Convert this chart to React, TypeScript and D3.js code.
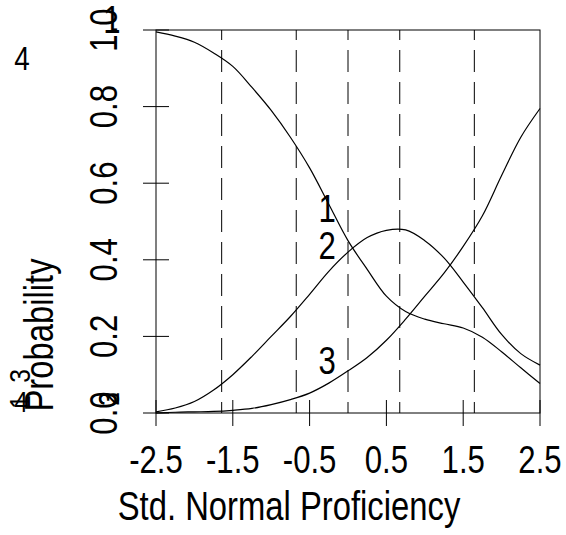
import * as d3 from "d3";

// ability grid and category probabilities
const theta = [
  -2.5, -2.25, -2.0, -1.75, -1.5, -1.25, -1.0, -0.75, -0.5, -0.25, 0.0,
  0.25, 0.5, 0.75, 1.0, 1.25, 1.5, 1.75, 2.0, 2.25, 2.5,
];
const cat1 = [
  0.995, 0.984, 0.968, 0.94, 0.905, 0.85, 0.79, 0.72, 0.64, 0.545, 0.45,
  0.375, 0.305, 0.265, 0.245, 0.233, 0.222, 0.198, 0.16, 0.118, 0.077,
];
const cat2 = [
  0.003, 0.013, 0.03, 0.06, 0.1, 0.148, 0.2, 0.252, 0.31, 0.37, 0.42,
  0.458, 0.477, 0.478, 0.45, 0.405, 0.342, 0.275, 0.205, 0.155, 0.125,
];
const cat3 = [
  0.0, 0.002, 0.003, 0.004, 0.007, 0.012, 0.022, 0.035, 0.052, 0.078, 0.11,
  0.145, 0.19, 0.245, 0.305, 0.365, 0.435, 0.515, 0.62, 0.72, 0.795,
];
const series = [cat1, cat2, cat3];
const seriesLabels = ["1", "2", "3"];
const labelTheta = [-0.27, -0.27, -0.27];
const labelProb = [0.533, 0.436, 0.136];

// normal quantiles drawn as dashed references
const cutpoints = [-1.645, -0.674, 0, 0.674, 1.645];

const xTicks = [-2.5, -1.5, -0.5, 0.5, 1.5, 2.5];
const yTicks = [0, 0.2, 0.4, 0.6, 0.8, 1.0];

const W = 566;
const H = 535;
const FONT = "'Liberation Sans', Arial, sans-serif";
const FS = 38;
const NARROW = 0.82; // squeeze to look like a narrow face

function Label(props: {
  x: number;
  y: number;
  rotate?: number;
  size?: number;
  anchor?: string;
  children: string;
}) {
  const { x, y, rotate = 0, size = FS, anchor = "middle", children } = props;
  return (
    <text
      transform={`translate(${x},${y}) rotate(${rotate}) scale(${NARROW},1)`}
      textAnchor={anchor}
      fontSize={size}
    >
      {children}
    </text>
  );
}

export default function App() {
  const x = d3.scaleLinear().domain([-2.5, 2.5]).range([156, 540]);
  const y = d3.scaleLinear().domain([0, 1]).range([413, 30]);
  const [x0, x1] = x.range();
  const [y0, y1] = y.range();

  const line = d3
    .line<number>()
    .x((_, i) => x(theta[i]))
    .y((d) => y(d))
    .curve(d3.curveCatmullRom.alpha(0.5));

  return (
    <svg
      width={W}
      height={H}
      style={{ position: "absolute", left: 0, top: 0, background: "#fff" }}
      fontFamily={FONT}
    >
      {cutpoints.map((c) => (
        <line
          key={c}
          x1={x(c)}
          x2={x(c)}
          y1={y1}
          y2={y0}
          stroke="#000"
          strokeWidth={1}
          strokeDasharray="22 10"
          strokeDashoffset={12}
        />
      ))}

      {series.map((s, i) => (
        <path key={i} d={line(s) ?? ""} fill="none" stroke="#000" strokeWidth={1.2} />
      ))}

      {seriesLabels.map((t, i) => (
        <Label key={t} x={x(labelTheta[i])} y={y(labelProb[i]) + 13}>
          {t}
        </Label>
      ))}

      <rect
        x={x0}
        y={y1}
        width={x1 - x0}
        height={y0 - y1}
        fill="none"
        stroke="#000"
        strokeWidth={1}
      />

      {xTicks.map((t) => (
        <g key={t}>
          <line x1={x(t)} x2={x(t)} y1={y0 - 13} y2={y0 + 13} stroke="#000" />
          <Label x={x(t)} y={473}>
            {t.toFixed(1)}
          </Label>
        </g>
      ))}

      {yTicks.map((t) => (
        <g key={t}>
          <line x1={x0 - 13} x2={x0 + 13} y1={y(t)} y2={y(t)} stroke="#000" />
          <Label x={117} y={y(t)} rotate={-90}>
            {t.toFixed(1)}
          </Label>
        </g>
      ))}

      <Label x={289} y={520} size={40}>
        Std. Normal Proficiency
      </Label>
      <Label x={53} y={335} rotate={-90} size={40}>
        Probability
      </Label>

      {/* stray category labels in the margins */}
      <Label x={22} y={70} size={34}>
        4
      </Label>
      <Label x={112} y={33}>
        1
      </Label>
      <Label x={30} y={376} rotate={-90} size={30}>
        3
      </Label>
      <Label x={30} y={402} rotate={-90} size={30}>
        1
      </Label>
      <Label x={21} y={412} size={30}>
        4
      </Label>
      <Label x={119} y={399} rotate={-90} size={30}>
        2
      </Label>
      <Label x={119} y={399} rotate={-90} size={30}>
        3
      </Label>
    </svg>
  );
}
